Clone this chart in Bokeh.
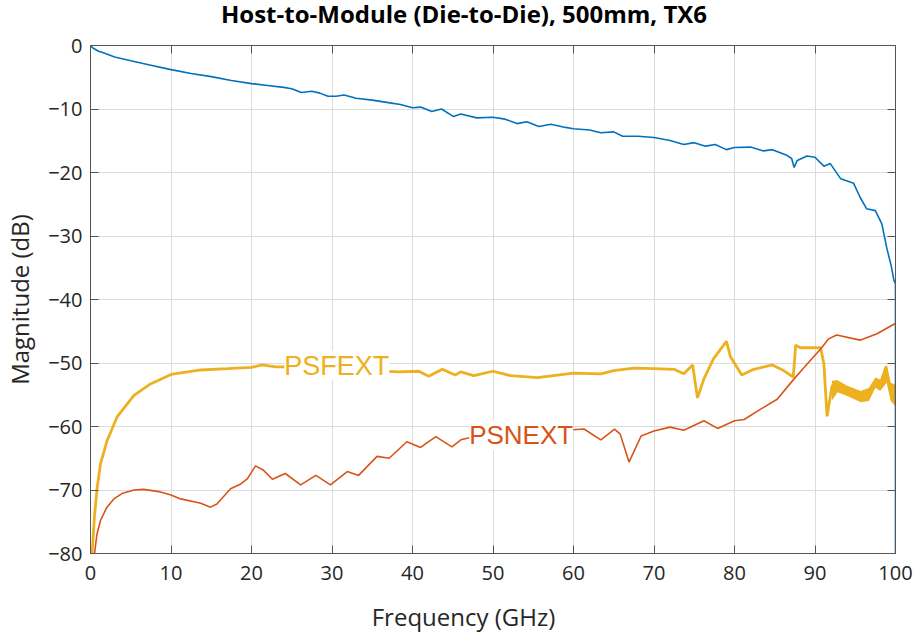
from bokeh.plotting import figure
from bokeh.resources import INLINE
from bokeh.embed import file_html
from bokeh.layouts import column
from bokeh.models import Range1d, LinearAxis, FixedTicker, Label, Div

# insertion loss (blue)
il_f = [0, 0.3, 1, 1.5, 3, 5, 7.5, 10, 12.5, 15, 17.5, 20, 22, 24, 25, 26.2, 27.5, 28.5,
        29.5, 30.5, 31.5, 33, 35, 37, 38.5, 40, 41, 42.4, 43.6, 45.1, 46, 48, 50, 51.5,
        53, 54.2, 55.7, 57.2, 59, 60, 62, 63.4, 65, 66.1, 68, 70, 72, 73.7, 75, 76.4,
        77.6, 79, 80, 82, 83.6, 84.7, 86.5, 87.1, 87.4, 87.8, 89, 90, 91.1, 91.9, 93.2,
        94.8, 95.6, 96.4, 97.5, 98.3, 98.9, 99.5, 99.8, 100, 100]
il_db = [0, -0.4, -0.9, -1.1, -1.8, -2.4, -3.1, -3.8, -4.4, -4.9, -5.5, -6.0, -6.3, -6.6,
         -6.8, -7.4, -7.2, -7.5, -8.0, -8.0, -7.8, -8.3, -8.6, -9.0, -9.3, -9.8, -9.7,
         -10.4, -10.0, -11.2, -10.8, -11.4, -11.3, -11.6, -12.3, -12.0, -12.75, -12.4,
         -12.9, -13.1, -13.3, -13.75, -13.6, -14.3, -14.3, -14.5, -14.96, -15.6, -15.3,
         -15.85, -15.6, -16.4, -16.06, -16.0, -16.6, -16.4, -17.3, -17.8, -19.2, -18.1,
         -17.4, -17.6, -19.0, -18.6, -21.0, -21.7, -23.9, -25.7, -26.0, -28.1, -31.8,
         -34.9, -37.0, -37.5, -80]

# PSFEXT (yellow)
fext_f = [0.2, 0.5, 0.83, 1.24, 2.07, 3.3, 5.4, 7.45, 10, 13.7, 17, 20, 21.3, 23, 25, 27,
          31, 35, 38.3, 40.8, 42.0, 43.7, 45.3, 46, 47.6, 50, 52.2, 55.5, 58, 60, 63.4,
          65, 67.5, 70, 72.5, 73.7, 74.8, 75.4, 76.2, 77.4, 79.0, 79.5, 80.9, 82.4, 84.7,
          86.1, 87.3, 87.6, 88.2, 90.7, 91.1, 91.5, 92.1, 92.7, 94, 95.7, 96.5, 97.5,
          98.1, 98.8, 99.4, 99.8, 100]
fext_db = [-80, -74, -69.6, -65.9, -62.2, -58.5, -55.1, -53.3, -51.8, -51.1, -50.9, -50.7,
           -50.3, -50.6, -50.6, -50.8, -51.0, -51.2, -51.4, -51.3, -52.1, -50.97, -51.9,
           -51.4, -52.0, -51.3, -52.0, -52.3, -51.9, -51.6, -51.7, -51.2, -50.8, -50.9,
           -51.0, -51.7, -50.3, -55.5, -52.5, -49.3, -46.6, -49.0, -51.9, -51.0, -50.3,
           -51.2, -52.2, -47.2, -47.6, -47.6, -50.1, -58.4, -53.7, -52.9, -54.4, -55.3,
           -55.0, -53.1, -53.5, -50.6, -54.5, -55.8, -55.0]

# noisy envelope of PSFEXT above 92 GHz
band_f = [92.1, 92.8, 94.0, 95.7, 96.7, 97.5, 98.1, 98.9, 99.4, 100]
band_hi = [-52.8, -52.7, -53.6, -54.4, -53.9, -52.3, -52.6, -50.2, -53.1, -53.4]
band_lo = [-55.9, -54.6, -55.2, -56.2, -56.0, -53.9, -54.4, -53.1, -56.0, -56.8]

# PSNEXT (red)
next_f = [0.5, 0.8, 1.24, 2, 2.9, 4, 5.4, 6.6, 8.7, 10, 11.2, 13.7, 14.9, 15.7, 17.4, 18.6,
          19.5, 20.5, 21.5, 22.6, 24.2, 26.1, 28, 29.8, 31.9, 33.3, 35.6, 37.1, 39.3, 41.0,
          42.9, 44.9, 46, 48, 52, 56, 59, 61.3, 63.4, 65.1, 65.8, 66.9, 68.4, 70, 72,
          73.7, 76.2, 77.9, 80, 81.2, 83.2, 85.3, 87.4, 89, 90.7, 91.7, 92.7, 95.6, 97.7,
          99.8, 100]
next_db = [-80, -77, -74.8, -72.8, -71.4, -70.5, -70.0, -69.9, -70.3, -70.8, -71.4, -72.1,
           -72.7, -72.2, -69.8, -69.1, -68.2, -66.2, -66.9, -68.3, -67.4, -69.2, -67.7,
           -69.2, -67.1, -67.7, -64.7, -65.0, -62.4, -63.3, -61.6, -63.2, -62.1, -61.5,
           -61.5, -61.0, -60.6, -60.4, -62.1, -60.4, -61.2, -65.6, -61.5, -60.7, -60.1,
           -60.6, -59.1, -60.3, -59.1, -58.9, -57.3, -55.7, -52.5, -50.2, -47.8, -46.2,
           -45.6, -46.4, -45.4, -43.9, -43.8]

x_ticks = [0, 10, 20, 30, 40, 50, 60, 70, 80, 90, 100]
y_ticks = [-80, -70, -60, -50, -40, -30, -20, -10, 0]

BLUE = "#0072BD"
RED = "#D95319"
YELLOW = "#EDB120"
FONT = "Open Sans"
AXIS = "#555555"

p = figure(width=915, height=568, output_backend="svg", toolbar_location=None,
           x_range=Range1d(0, 100), y_range=Range1d(-80, 0),
           min_border_left=90, min_border_right=20, min_border_top=15, min_border_bottom=45)
p.outline_line_color = None
p.background_fill_color = "white"

p.xaxis.ticker = FixedTicker(ticks=x_ticks)
p.yaxis.ticker = FixedTicker(ticks=y_ticks)
p.yaxis.major_label_overrides = {t: str(t).replace("-", "\u2212") for t in y_ticks}
p.yaxis.axis_label = "Magnitude (dB)"
p.yaxis.axis_label_text_font = FONT
p.yaxis.axis_label_text_font_size = "24px"
p.yaxis.axis_label_text_font_style = "normal"
p.yaxis.axis_label_text_color = "#262626"
p.yaxis.axis_label_standoff = 9

for ax in [p.xaxis[0], p.yaxis[0]]:
    ax.major_label_text_font = FONT
    ax.major_label_text_font_size = "20px"
    ax.major_label_text_color = "#262626"
    ax.axis_line_color = AXIS
    ax.major_tick_line_color = AXIS
    ax.major_tick_in = 8
    ax.major_tick_out = 0
    ax.minor_tick_line_color = None
p.xaxis.major_label_standoff = 12
p.yaxis.major_label_standoff = 8

for side, ticks in [("above", x_ticks), ("right", y_ticks)]:
    extra = LinearAxis(ticker=FixedTicker(ticks=ticks), major_label_text_font_size="0px",
                       axis_line_color=AXIS, major_tick_line_color=AXIS,
                       major_tick_in=8, major_tick_out=0, minor_tick_line_color=None,
                       major_label_standoff=0)
    p.add_layout(extra, side)

p.grid.grid_line_color = "#dcdcdc"
p.grid.grid_line_width = 1
p.xgrid.ticker = FixedTicker(ticks=x_ticks)
p.ygrid.ticker = FixedTicker(ticks=y_ticks)

p.varea(x=band_f, y1=band_lo, y2=band_hi, fill_color=YELLOW)
p.line(fext_f, fext_db, color=YELLOW, line_width=2.8)
p.line(next_f, next_db, color=RED, line_width=1.6)
p.line(il_f, il_db, color=BLUE, line_width=1.6)

p.add_layout(Label(x=30.6, y=-50.4, text="PSFEXT", text_font="Liberation Sans",
                   text_font_size="27px", text_color=YELLOW, text_align="center",
                   text_baseline="middle", background_fill_color="white",
                   background_fill_alpha=1.0))
p.add_layout(Label(x=53.5, y=-61.4, text="PSNEXT", text_font="Liberation Sans",
                   text_font_size="26px", text_color=RED, text_align="center",
                   text_baseline="middle", background_fill_color="white",
                   background_fill_alpha=1.0))

title = Div(text="Host-to-Module (Die-to-Die), 500mm, TX6", width=915, height=30,
            styles={"font-family": FONT, "font-size": "24px", "font-weight": "bold",
                    "color": "black", "line-height": "28px", "text-align": "center",
                    "text-indent": "13px", "white-space": "nowrap", "margin": "0"})
xlabel = Div(text="Frequency (GHz)", width=915, height=35,
             styles={"font-family": FONT, "font-size": "24px", "color": "#262626",
                     "line-height": "38px", "text-align": "center",
                     "text-indent": "12px", "white-space": "nowrap", "margin": "0"})

layout = column(title, p, xlabel, spacing=0)
open("out.html", "w").write(file_html(layout, INLINE))
